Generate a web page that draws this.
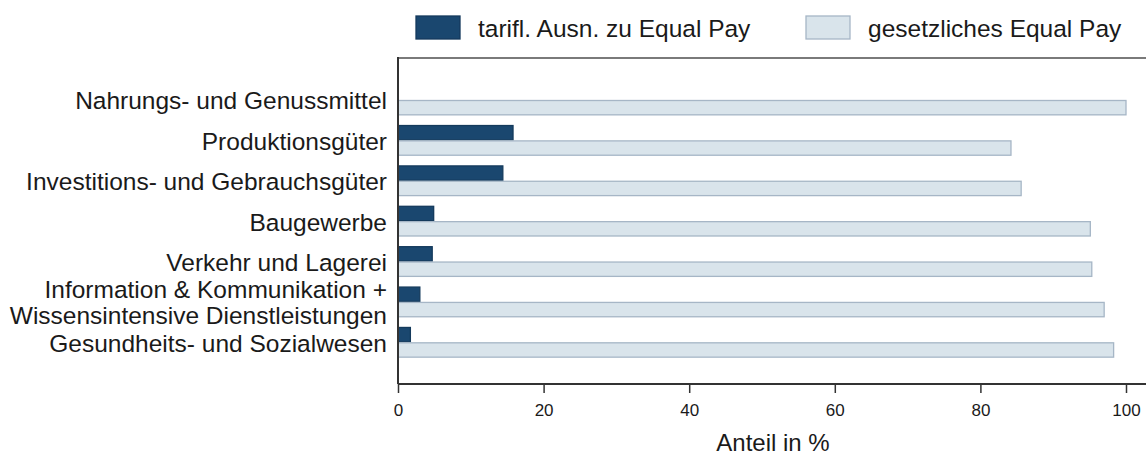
<!DOCTYPE html>
<html>
<head>
<meta charset="utf-8">
<script src="https://cdn.jsdelivr.net/npm/d3@7"></script>
<style>
  body { margin: 0; background: #fff; }
  text { font-family: "Liberation Sans", Arial, sans-serif; fill: #1a1a1a; }
</style>
</head>
<body>
<div id="main-chart"></div>
<script>
const width = 1146;
const height = 457;
const margin = { left: 398, right: 20, top: 58, bottom: 73 };

// data (shares in %)
const categories = [
  ["Nahrungs- und Genussmittel"],
  ["Produktionsgüter"],
  ["Investitions- und Gebrauchsgüter"],
  ["Baugewerbe"],
  ["Verkehr und Lagerei"],
  ["Information & Kommunikation +", "Wissensintensive Dienstleistungen"],
  ["Gesundheits- und Sozialwesen"],
];
const seriesNames = ["tarifl. Ausn. zu Equal Pay", "gesetzliches Equal Pay"];
const tariffValues = [0, 15.8, 14.4, 4.9, 4.7, 3.0, 1.7];
const legalValues = [100, 84.2, 85.6, 95.1, 95.3, 97.0, 98.3];
const xTickValues = [0, 20, 40, 60, 80, 100];

const colors = ["#1a476f", "#d9e4eb"];
const strokes = ["#143a5c", "#a6b6c6"];

const catKeys = categories.map((c) => c.join(" "));

const rows = catKeys.map((k, i) => ({
  key: k,
  lines: categories[i],
  values: [tariffValues[i], legalValues[i]],
}));

const svg = d3
  .select("#main-chart")
  .append("svg")
  .attr("width", width)
  .attr("height", height);

const xScale = d3
  .scaleLinear()
  .domain([0, 100])
  .range([margin.left, 1126]);

const yScale = d3
  .scaleBand()
  .domain(catKeys)
  .range([79.8, 362.5])
  .paddingInner(0.24)
  .paddingOuter(0.12);

const subScale = d3
  .scaleBand()
  .domain(seriesNames)
  .range([0, yScale.bandwidth()]);

// bars
const groups = svg
  .selectAll(".group")
  .data(rows)
  .join("g")
  .attr("class", "group")
  .attr("transform", (d) => `translate(0, ${yScale(d.key)})`);

groups
  .selectAll("rect")
  .data((d) => d.values.map((v, i) => ({ v, i })).filter((t) => t.v > 0))
  .join("rect")
  .attr("x", xScale(0))
  .attr("y", (d) => subScale(seriesNames[d.i]) + 0.5)
  .attr("width", (d) => xScale(d.v) - xScale(0))
  .attr("height", subScale.bandwidth() - 1)
  .attr("fill", (d) => colors[d.i])
  .attr("stroke", (d) => strokes[d.i])
  .attr("stroke-width", 1.3);

// category labels
groups
  .append("text")
  .attr("text-anchor", "end")
  .attr("font-size", "24.5px")
  .selectAll("tspan")
  .data((d) => d.lines.map((l, i, arr) => ({ l, i, n: arr.length })))
  .join("tspan")
  .attr("x", 387)
  .attr("y", (d) => yScale.bandwidth() / 2 + 1 + (d.i - (d.n - 1) / 2) * 26)
  .attr("dominant-baseline", "central")
  .text((d) => d.l);

// frame lines
svg
  .append("line")
  .attr("x1", margin.left)
  .attr("x2", width)
  .attr("y1", margin.top)
  .attr("y2", margin.top)
  .attr("stroke", "#7a7a7a")
  .attr("stroke-width", 2);

svg
  .append("line")
  .attr("x1", margin.left)
  .attr("x2", margin.left)
  .attr("y1", margin.top - 1)
  .attr("y2", 384)
  .attr("stroke", "#333")
  .attr("stroke-width", 2);

// x axis
const xAxis = d3
  .axisBottom(xScale)
  .tickValues(xTickValues)
  .tickSize(9)
  .tickPadding(11)
  .tickFormat(d3.format("d"));

svg
  .append("g")
  .attr("transform", "translate(0, 384)")
  .call(xAxis)
  .call((g) => {
    g.select(".domain").remove();
    g.selectAll("line").attr("stroke", "#333").attr("stroke-width", 1.5);
    g.selectAll("text")
      .attr("font-size", "17px")
      .attr("fill", "#1a1a1a")
      .style("font-family", '"Liberation Sans", Arial, sans-serif');
  });

svg
  .append("line")
  .attr("x1", margin.left)
  .attr("x2", width)
  .attr("y1", 384)
  .attr("y2", 384)
  .attr("stroke", "#333")
  .attr("stroke-width", 2);

svg
  .append("text")
  .attr("x", 773)
  .attr("y", 451)
  .attr("text-anchor", "middle")
  .attr("font-size", "24px")
  .text("Anteil in %");

// legend
const legendX = [416, 806];
const legend = svg
  .selectAll(".legend")
  .data(seriesNames)
  .join("g")
  .attr("class", "legend")
  .attr("transform", (d, i) => `translate(${legendX[i]}, 16)`);

legend
  .append("rect")
  .attr("width", 44)
  .attr("height", 23)
  .attr("fill", (d, i) => colors[i])
  .attr("stroke", (d, i) => strokes[i])
  .attr("stroke-width", 1.3);

legend
  .append("text")
  .attr("x", 62)
  .attr("y", 21)
  .attr("font-size", "24.5px")
  .text((d) => d);
</script>
</body>
</html>
